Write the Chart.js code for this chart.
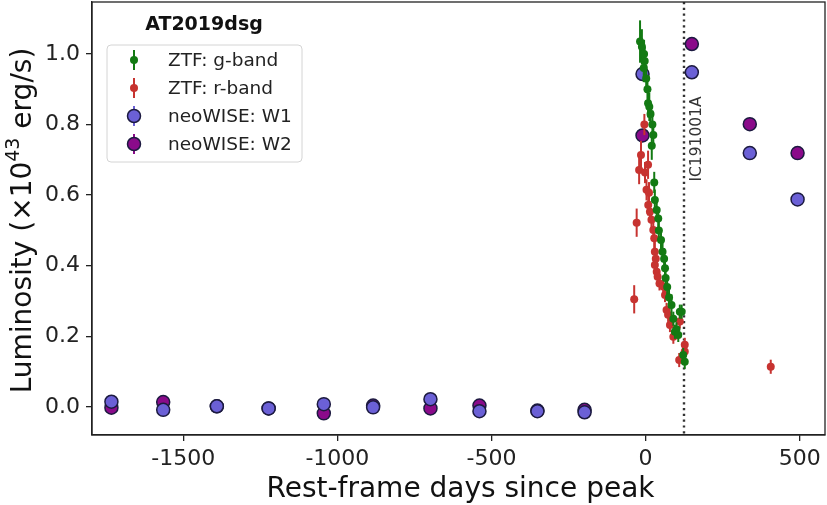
<!DOCTYPE html>
<html><head><meta charset="utf-8">
<script src="https://cdn.jsdelivr.net/npm/chart.js@4.4.0/dist/chart.umd.min.js"></script>
<style>html,body{margin:0;padding:0;background:#fff}canvas{display:block}</style>
</head><body>
<canvas id="c" width="827" height="505"></canvas>
<script>
// ---- data ----
const gDays = [-18, -12, -5, -3, -6, 2, 6, 8, 12, 16, 20, 22, 25, 28, 30, 36, 41, 43, 50, 55, 60, 63, 65, 70, 76, 84, 90, 95, 100, 106, 111, 117, 122, 127];
const gLum  = [1.035, 1.02, 1.0, 0.98, 0.96, 0.93, 0.90, 0.86, 0.85, 0.83, 0.74, 0.80, 0.77, 0.636, 0.586, 0.558, 0.534, 0.50, 0.473, 0.44, 0.42, 0.393, 0.365, 0.34, 0.31, 0.289, 0.25, 0.213, 0.22, 0.204, 0.27, 0.27, 0.147, 0.128];
const gErr  = [0.06, 0.05, 0.04, 0.04, 0.04, 0.04, 0.03, 0.04, 0.04, 0.03, 0.04, 0.04, 0.03, 0.03, 0.03, 0.03, 0.03, 0.03, 0.03, 0.03, 0.03, 0.03, 0.03, 0.03, 0.03, 0.03, 0.02, 0.02, 0.02, 0.02, 0.02, 0.02, 0.02, 0.02];
const rDays = [-37, -29, -21, -15, -4, -2, 3, 8, 8.5, 11, 14, 19, 25, 28, 30, 30, 33, 36, 39, 45, 57, 63, 68, 73, 79, 90, 109, 111, 127, 127, 406];
const rLum  = [0.305, 0.522, 0.671, 0.714, 0.80, 0.664, 0.615, 0.686, 0.572, 0.607, 0.553, 0.530, 0.501, 0.478, 0.44, 0.402, 0.42, 0.383, 0.369, 0.35, 0.341, 0.317, 0.275, 0.261, 0.232, 0.199, 0.133, 0.242, 0.176, 0.157, 0.114];
const rErr  = [0.04, 0.04, 0.04, 0.04, 0.03, 0.03, 0.03, 0.04, 0.03, 0.03, 0.03, 0.03, 0.03, 0.03, 0.03, 0.02, 0.02, 0.02, 0.02, 0.02, 0.02, 0.02, 0.02, 0.02, 0.02, 0.02, 0.02, 0.02, 0.02, 0.02, 0.02];
const wDays = [-1733, -1565, -1391, -1223, -1044, -884, -698, -539, -351, -198, -10, 150, 338, 493];
const w1Lum = [0.015, -0.008, 0.002, -0.004, 0.008, -0.001, 0.022, -0.012, -0.012, -0.015, 0.943, 0.948, 0.719, 0.588];
const w2Lum = [-0.002, 0.014, 0.002, -0.004, -0.018, 0.004, -0.004, 0.004, -0.010, -0.008, 0.769, 1.028, 0.801, 0.719];
const xTicks = [-1500, -1000, -500, 0, 500];
const yTicks = [0.0, 0.2, 0.4, 0.6, 0.8, 1.0];
const neutrinoDay = 124;
const seriesNames = ['ZTF: g-band', 'ZTF: r-band', 'neoWISE: W1', 'neoWISE: W2'];

const FONT = "'DejaVu Sans', sans-serif";
const GREEN = '#137a13', RED = '#c73330', W1C = '#6b60d6', W2C = '#8a0a8a', EDGE = '#1c1a40';

function pts(xs, ys) { return xs.map((x, i) => ({x: x, y: ys[i]})); }

const overlay = {
  id: 'overlay',
  beforeDatasetDraw(chart, args) {
    const ds = chart.data.datasets[args.index];
    if (!ds.errs) return;
    const ctx = chart.ctx, xs = chart.scales.x, ys = chart.scales.y, a = chart.chartArea;
    ctx.save();
    ctx.beginPath(); ctx.rect(a.left, a.top, a.right - a.left, a.bottom - a.top); ctx.clip();
    ctx.strokeStyle = ds.backgroundColor; ctx.lineWidth = 2;
    ds.data.forEach((p, i) => {
      const px = xs.getPixelForValue(p.x);
      ctx.beginPath();
      ctx.moveTo(px, ys.getPixelForValue(p.y - ds.errs[i]));
      ctx.lineTo(px, ys.getPixelForValue(p.y + ds.errs[i]));
      ctx.stroke();
    });
    ctx.restore();
  },
  beforeDatasetsDraw(chart) {
    const ctx = chart.ctx, xs = chart.scales.x, a = chart.chartArea;
    const px = Math.round(xs.getPixelForValue(neutrinoDay));
    ctx.save();
    ctx.strokeStyle = '#333'; ctx.lineWidth = 2.4; ctx.setLineDash([2.2, 3.6]);
    ctx.beginPath(); ctx.moveTo(px, a.top); ctx.lineTo(px, a.bottom); ctx.stroke();
    ctx.restore();
    ctx.save();
    ctx.translate(px + 13, 139); ctx.rotate(-Math.PI / 2);
    ctx.fillStyle = '#333'; ctx.font = '15.5px ' + FONT;
    ctx.textAlign = 'center'; ctx.textBaseline = 'middle';
    ctx.fillText('IC191001A', 0, 0);
    ctx.restore();
  },
  afterDraw(chart) {
    const ctx = chart.ctx, a = chart.chartArea;
    ctx.save();
    // frame
    ctx.strokeStyle = '#222'; ctx.lineWidth = 1.3;
    ctx.strokeRect(a.left, a.top, a.right - a.left, a.bottom - a.top);
    // title
    ctx.fillStyle = '#111'; ctx.font = 'bold 19px ' + FONT;
    ctx.textAlign = 'center'; ctx.textBaseline = 'middle';
    ctx.fillText('AT2019dsg', 204, 25);
    // legend box
    const bx = 107, by = 45, bw = 195, bh = 117, r = 4;
    ctx.beginPath();
    ctx.moveTo(bx + r, by); ctx.lineTo(bx + bw - r, by); ctx.quadraticCurveTo(bx + bw, by, bx + bw, by + r);
    ctx.lineTo(bx + bw, by + bh - r); ctx.quadraticCurveTo(bx + bw, by + bh, bx + bw - r, by + bh);
    ctx.lineTo(bx + r, by + bh); ctx.quadraticCurveTo(bx, by + bh, bx, by + bh - r);
    ctx.lineTo(bx, by + r); ctx.quadraticCurveTo(bx, by, bx + r, by);
    ctx.closePath();
    ctx.fillStyle = 'rgba(255,255,255,0.8)'; ctx.fill();
    ctx.strokeStyle = '#d4d4d4'; ctx.lineWidth = 1; ctx.stroke();
    const cols = [GREEN, RED, W1C, W2C];
    chart.data.datasets.forEach((ds, i) => {
      const ly = 60 + i * 28, lx = 134;
      ctx.strokeStyle = cols[i]; ctx.lineWidth = 2;
      ctx.beginPath(); ctx.moveTo(lx, ly - 10); ctx.lineTo(lx, ly + 10); ctx.stroke();
      ctx.beginPath();
      if (i < 2) {
        ctx.arc(lx, ly, 4, 0, Math.PI * 2); ctx.fillStyle = cols[i]; ctx.fill();
      } else {
        ctx.arc(lx, ly, 6.5, 0, Math.PI * 2); ctx.fillStyle = cols[i]; ctx.fill();
        ctx.strokeStyle = EDGE; ctx.lineWidth = 1.5; ctx.stroke();
      }
      ctx.fillStyle = '#222'; ctx.font = '18.5px ' + FONT;
      ctx.textAlign = 'left'; ctx.textBaseline = 'middle';
      ctx.fillText(ds.label, 168, ly + 1);
    });
    // x title
    ctx.fillStyle = '#111'; ctx.font = '28px ' + FONT;
    ctx.textAlign = 'center'; ctx.textBaseline = 'alphabetic';
    ctx.fillText('Rest-frame days since peak', (a.left + a.right) / 2 + 2, 497);
    // y title with superscript
    ctx.translate(31, (a.top + a.bottom) / 2 + 2); ctx.rotate(-Math.PI / 2);
    const p1 = 'Luminosity (\u00d710', p2 = '43', p3 = ' erg/s)';
    const f1 = '28px ' + FONT, f2 = '19px ' + FONT;
    ctx.font = f1; const w1 = ctx.measureText(p1).width, w3 = ctx.measureText(p3).width;
    ctx.font = f2; const w2 = ctx.measureText(p2).width;
    let sx = -(w1 + w2 + w3) / 2;
    ctx.textAlign = 'left';
    ctx.font = f1; ctx.fillText(p1, sx, 0); sx += w1;
    ctx.font = f2; ctx.fillText(p2, sx, -12); sx += w2;
    ctx.font = f1; ctx.fillText(p3, sx, 0);
    ctx.restore();
  }
};

new Chart(document.getElementById('c'), {
  type: 'scatter',
  data: {
    datasets: [
      {label: seriesNames[0], data: pts(gDays, gLum), errs: gErr, backgroundColor: GREEN, borderColor: GREEN, borderWidth: 0, pointRadius: 4},
      {label: seriesNames[1], data: pts(rDays, rLum), errs: rErr, backgroundColor: RED, borderColor: RED, borderWidth: 0, pointRadius: 4},
      {label: seriesNames[2], data: pts(wDays, w1Lum), backgroundColor: W1C, borderColor: EDGE, borderWidth: 1.5, pointRadius: 6.5},
      {label: seriesNames[3], data: pts(wDays, w2Lum), backgroundColor: W2C, borderColor: EDGE, borderWidth: 1.5, pointRadius: 6.5}
    ]
  },
  options: {
    responsive: false, animation: false, devicePixelRatio: 1,
    layout: {autoPadding: false, padding: {top: 2, right: 2, left: 0, bottom: 0}},
    plugins: {legend: {display: false}, tooltip: {enabled: false}},
    scales: {
      x: {
        type: 'linear', min: -1796, max: 582,
        afterBuildTicks: s => { s.ticks = xTicks.map(v => ({value: v})); },
        afterFit: s => { s.height = 70; s.paddingLeft = 0; s.paddingRight = 0; },
        ticks: {color: '#222', font: {family: FONT, size: 22}, padding: 5, maxRotation: 0, callback: v => String(v)},
        grid: {drawOnChartArea: false, drawTicks: true, tickLength: 6, color: '#222', lineWidth: 1.3},
        border: {display: true, color: '#222', width: 1.3}
      },
      y: {
        type: 'linear', min: -0.0793, max: 1.147,
        afterBuildTicks: s => { s.ticks = yTicks.map(v => ({value: v})); },
        afterFit: s => { s.width = 92; s.paddingTop = 0; s.paddingBottom = 0; },
        ticks: {color: '#222', font: {family: FONT, size: 22}, padding: 6, callback: v => Number(v).toFixed(1)},
        grid: {drawOnChartArea: false, drawTicks: true, tickLength: 6, color: '#222', lineWidth: 1.3},
        border: {display: true, color: '#222', width: 1.3}
      }
    }
  },
  plugins: [overlay]
});
</script>
</body></html>
